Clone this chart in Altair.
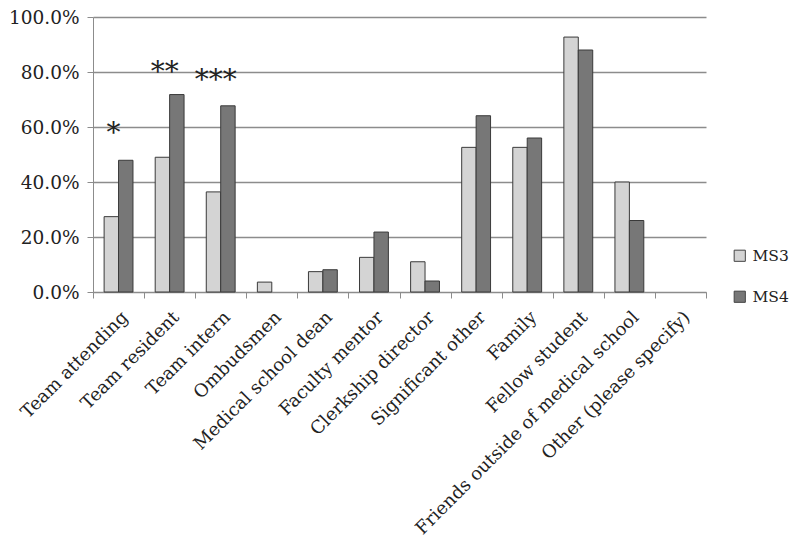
import altair as alt
import pandas as pd

categories = ["Team attending", "Team resident", "Team intern", "Ombudsmen",
              "Medical school dean", "Faculty mentor", "Clerkship director",
              "Significant other", "Family", "Fellow student",
              "Friends outside of medical school", "Other (please specify)"]
ms3 = [27.4, 49.0, 36.4, 3.6, 7.4, 12.6, 11.0, 52.6, 52.6, 92.7, 40.0, 0.0]
ms4 = [47.9, 71.8, 67.7, 0.0, 8.1, 21.8, 4.0, 64.1, 56.0, 88.0, 26.0, 0.0]
series = ["MS3", "MS4"]

star_cats = ["Team attending", "Team resident", "Team intern"]
star_text = ["*", "**", "***"]
star_level = [57.5, 79.6, 76.7]

rows = []
for c, a, b in zip(categories, ms3, ms4):
    rows.append({"category": c, "series": "MS3", "pct": a / 100})
    rows.append({"category": c, "series": "MS4", "pct": b / 100})
df = pd.DataFrame(rows)
stars = pd.DataFrame({"category": star_cats, "label": star_text,
                      "pct": [v / 100 for v in star_level]})

FONT = "DejaVu Serif"

xenc = alt.X("category:N", sort=categories,
             scale=alt.Scale(paddingInner=0, paddingOuter=0),
             axis=alt.Axis(title=None, labelAngle=-45, labelAlign="right",
                           labelBaseline="top", tickBand="extent",
                           labelFont=FONT, labelFontSize=18, labelColor="#222",
                           labelPadding=10, labelLimit=0,
                           domainColor="#8c8c8c",
                           tickColor="#8c8c8c", tickSize=6, grid=False))
yenc = alt.Y("pct:Q", scale=alt.Scale(domain=[0, 1], nice=False),
             axis=alt.Axis(title=None, format=".1%",
                           values=[0, 0.2, 0.4, 0.6, 0.8, 1.0],
                           labelFont=FONT, labelFontSize=18.5, labelColor="#222",
                           labelPadding=8, domainColor="#8c8c8c",
                           tickColor="#8c8c8c", tickSize=6,
                           gridColor="#8c8c8c", gridWidth=1.3))

bars = alt.Chart(df).mark_bar(stroke="#3a3a3a", strokeWidth=1).encode(
    x=xenc,
    y=yenc,
    xOffset=alt.XOffset("series:N", sort=series,
                        scale=alt.Scale(paddingInner=0, paddingOuter=0.77)),
    strokeOpacity=alt.condition(alt.datum.pct > 0, alt.value(1), alt.value(0)),
    color=alt.Color("series:N", sort=series,
                    scale=alt.Scale(domain=series, range=["#d4d4d4", "#777777"]),
                    legend=alt.Legend(title=None, orient="none", legendX=639,
                                      legendY=231, symbolType="square",
                                      symbolSize=125, symbolStrokeColor="#444",
                                      symbolStrokeWidth=1,
                                      labelFont=FONT, labelFontSize=15.5,
                                      labelColor="#222", rowPadding=24,
                                      padding=0, labelOffset=5)),
)

text = alt.Chart(stars).mark_text(font=FONT, fontSize=28, color="#222",
                                  baseline="middle", dx=-5).encode(
    x=alt.X("category:N", sort=categories),
    y=alt.Y("pct:Q"),
    text="label:N",
)

chart = alt.layer(bars, text).properties(
    width=613, height=275,
    autosize=alt.AutoSizeParams(type="none"),
    padding={"left": 85, "top": 9, "right": 86, "bottom": 247},
).configure_view(stroke="transparent")

chart.save("out.html", embed_options={"renderer": "svg", "actions": False})
